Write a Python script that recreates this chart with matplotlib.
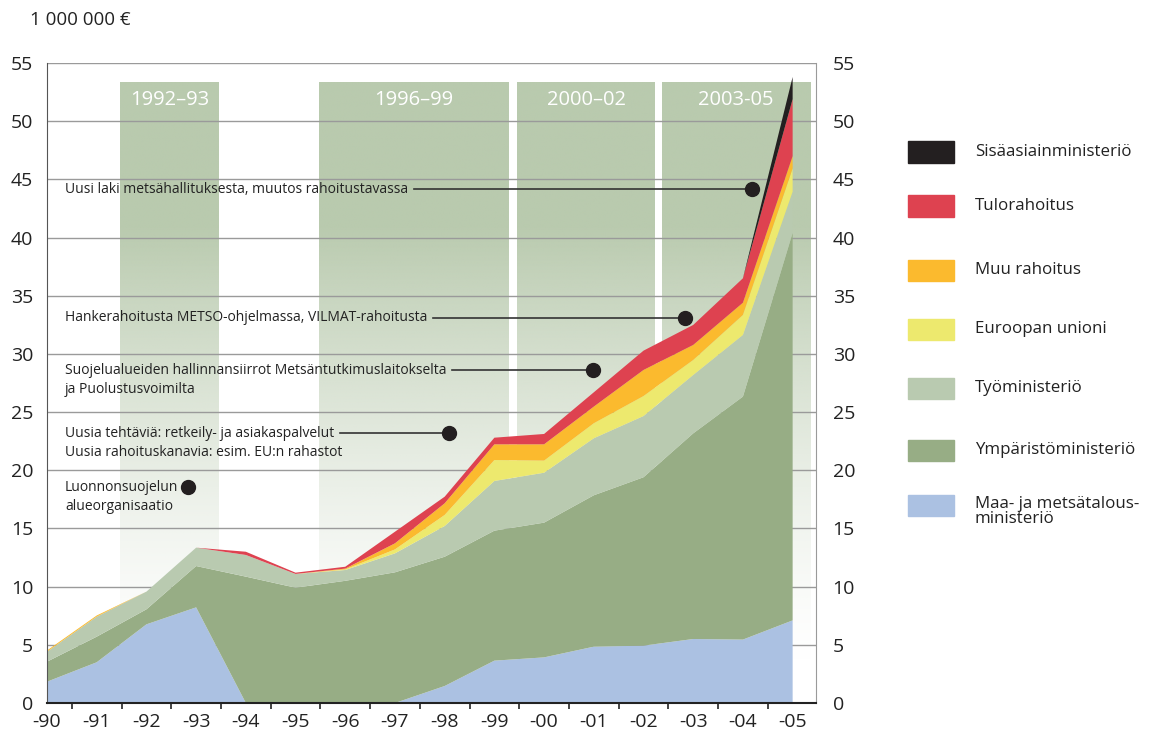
import numpy as np
import matplotlib.pyplot as plt
from matplotlib.patches import Rectangle

plt.rcParams['font.family'] = ['Open Sans', 'DejaVu Sans']

# years -90 ... -05
years = ['-90', '-91', '-92', '-93', '-94', '-95', '-96', '-97',
         '-98', '-99', '-00', '-01', '-02', '-03', '-04', '-05']

# funding by source, million euro
maa = [1.83, 3.5, 6.76, 8.22, 0, 0, 0, 0, 1.46, 3.64, 3.92, 4.84, 4.93, 5.5, 5.45, 7.1]
ymparisto = [1.72, 2.2, 1.29, 3.55, 10.86, 9.91, 10.5, 11.23, 11.11, 11.17, 11.58, 13.01, 14.47, 17.67, 20.88, 33.3]
tyo = [0.86, 1.72, 1.52, 1.58, 1.86, 1.18, 0.93, 1.63, 2.64, 4.27, 4.29, 4.9, 5.26, 5.02, 5.3, 3.54]
eu = [0, 0, 0, 0, 0, 0, 0.05, 0.34, 0.95, 1.8, 1.04, 1.29, 1.72, 1.29, 1.72, 2.01]
muu = [0.1, 0.1, 0, 0, 0, 0, 0.07, 0.52, 1.0, 1.35, 1.4, 1.43, 2.24, 1.29, 1.05, 1.05]
tulo = [0, 0, 0, 0, 0.28, 0.11, 0.16, 1.0, 0.57, 0.57, 0.89, 1.23, 1.66, 1.72, 2.1, 4.9]
sisa = [0, 0, 0, 0, 0, 0, 0, 0, 0, 0, 0, 0, 0, 0, 0, 1.9]

series = [maa, ymparisto, tyo, eu, muu, tulo, sisa]
colors = ['#abc1e2', '#97ad85', '#b9cab0', '#ede96e', '#fbba2e', '#de4250', '#231f20']
legend_labels = ['Sisäasiainministeriö', 'Tulorahoitus', 'Muu rahoitus', 'Euroopan unioni',
                 'Työministeriö', 'Ympäristöministeriö', 'Maa- ja metsätalous-\nministeriö']

# government periods (shaded bands)
periods = ['1992–93', '1996–99', '2000–02', '2003-05']
period_spans = [(1.47, 3.46), (5.47, 9.28), (9.46, 12.23), (12.37, 15.35)]
band_top = 53.3

# events
events = ['Uusi laki metsähallituksesta, muutos rahoitustavassa',
          'Hankerahoitusta METSO-ohjelmassa, VILMAT-rahoitusta',
          'Suojelualueiden hallinnansiirrot Metsäntutkimuslaitokselta\nja Puolustusvoimilta',
          'Uusia tehtäviä: retkeily- ja asiakaspalvelut\nUusia rahoituskanavia: esim. EU:n rahastot',
          'Luonnonsuojelun\nalueorganisaatio']
event_x = [14.18, 12.84, 10.99, 8.09, 2.84]
event_y = [44.17, 33.09, 28.62, 23.2, 18.56]
event_line = [True, True, True, True, False]

x = np.arange(len(years))

fig = plt.figure(figsize=(11.7, 7.34), dpi=100)
ax = fig.add_axes([47 / 1170, 1 - 703 / 734, (816 - 47) / 1170, 640 / 734])
ax.set_xlim(0, 15.47)
ax.set_ylim(0, 55)

# shaded bands with gradient fading downwards
band_rgb = np.array([0xb9, 0xca, 0xae]) / 255
n = 300
v = np.linspace(0, band_top, n)
alpha = np.clip((v - 3) / 38, 0, 1) ** 1.4
grad = np.zeros((n, 1, 4))
grad[:, 0, :3] = band_rgb
grad[:, 0, 3] = alpha
for (x0, x1), lab in zip(period_spans, periods):
    ax.imshow(grad, extent=[x0, x1, 0, band_top], origin='lower', aspect='auto',
              zorder=0, interpolation='bilinear')
    ax.text((x0 + x1) / 2, 51.8, lab, color='white', ha='center', va='center',
            fontsize=14.5, zorder=1)

# grid
for g in range(5, 60, 5):
    ax.axhline(g, color='#9a9a9a', lw=1.0, zorder=1)

ax.stackplot(x, *series, colors=colors, lw=0, zorder=2)

# spines / ticks
ax.spines['top'].set_visible(False)
ax.spines['right'].set_color('#9a9a9a')
ax.spines['left'].set_color('#555555')
ax.spines['bottom'].set_color('#222222')
ax.spines['bottom'].set_linewidth(1.5)
ax.spines['bottom'].set_zorder(5)
ax.set_yticks(range(0, 60, 5))
ax.tick_params(axis='y', length=0, labelsize=14, pad=10, labelcolor='#222222')
ax.set_xticks(x)
ax.set_xticklabels(years)
ax.set_xticks(x[:-1] + 0.5, minor=True)
ax.tick_params(axis='x', which='major', length=0, labelsize=14, pad=7, labelcolor='#222222')
ax.tick_params(axis='x', which='minor', length=8, direction='inout', width=1.2, color='#222222')

ax2 = ax.twinx()
ax2.set_ylim(0, 55)
ax2.set_yticks(range(0, 60, 5))
ax2.tick_params(axis='y', length=0, labelsize=14, pad=12, labelcolor='#222222')
for s in ax2.spines.values():
    s.set_visible(False)

fig.text(30 / 1170, 1 - 20 / 734, '1 000 000 €', fontsize=13.5, va='center', color='#222222')

# event annotations
fs_ev = 10
half_line = 0.84
for lab, ex, ey in zip(events, event_x, event_y):
    ty = ey - half_line if '\n' in lab else ey
    ax.text(0.36, ty, lab, fontsize=fs_ev, va='center', ha='left', color='#222222',
            linespacing=1.38, zorder=6)
    ax.plot(ex, ey, 'o', color='#231f20', ms=10, zorder=7)

fig.canvas.draw()
renderer = fig.canvas.get_renderer()
inv = ax.transData.inverted()
for ex, ey, has_line, lab in zip(event_x, event_y, event_line, events):
    if not has_line:
        continue
    first = lab.split('\n')[0]
    tmp = ax.text(0.36, ey, first, fontsize=fs_ev, va='center', ha='left')
    bb = tmp.get_window_extent(renderer)
    tmp.remove()
    x_start = inv.transform((bb.x1 + 6, 0))[0]
    ax.plot([x_start, ex], [ey, ey], color='#333333', lw=1.2, zorder=6)

# legend
leg_y = [152, 206, 270, 329.5, 388.5, 450, 505.5]
leg_colors = colors[::-1]
for lab, c, yy in zip(legend_labels, leg_colors, leg_y):
    fig.patches.append(Rectangle((908 / 1170, 1 - (yy + 10.5) / 734), 46 / 1170, 21 / 734,
                                 transform=fig.transFigure, color=c))
    if '\n' in lab:
        fig.text(975 / 1170, 1 - (yy - 10) / 734, lab, fontsize=12.2, va='top',
                 color='#222222', linespacing=0.95)
    else:
        fig.text(975 / 1170, 1 - yy / 734, lab, fontsize=12.2, va='center', color='#222222')

fig.savefig('out.png', dpi=100)
